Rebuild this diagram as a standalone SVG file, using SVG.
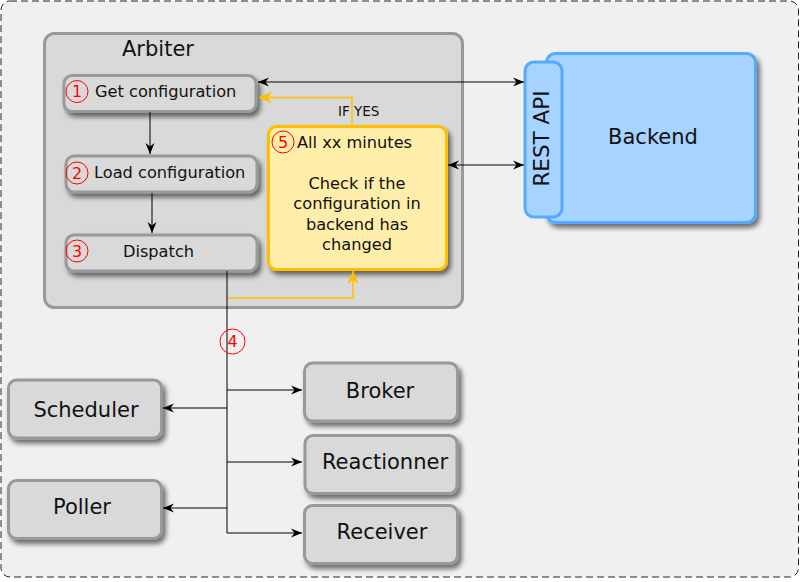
<svg xmlns="http://www.w3.org/2000/svg" width="800" height="582" viewBox="0 0 800 582">
<style>
text{font-family:"DejaVu Sans",Verdana,sans-serif;fill:#111}
.box{fill:#d9d9d9;stroke:#999;stroke-width:3;filter:url(#sh)}
.num{fill:none;stroke:#f00;stroke-width:1}
.numt{fill:#f00;font-size:16px;text-anchor:middle}
.lbl{font-size:16.2px}
.big{font-size:21px;text-anchor:middle}
.ln{fill:none;stroke:#000;stroke-width:1}
.yl{fill:none;stroke:#ffbf00;stroke-width:1.5}
</style>
<defs>
<filter id="sh" x="-20%" y="-20%" width="150%" height="150%">
<feDropShadow dx="3" dy="4" stdDeviation="2.5" flood-color="#000" flood-opacity="0.55"/>
</filter>
<marker id="ab" viewBox="-11 -5 12 10" refX="0" refY="0" markerWidth="12" markerHeight="10" markerUnits="userSpaceOnUse" orient="auto-start-reverse">
<path d="M0,0 L-11,-4.5 L-7.5,0 L-11,4.5 Z" fill="#000"/>
</marker>
<marker id="ay" viewBox="-13 -7 14 14" refX="0" refY="0" markerWidth="14" markerHeight="14" markerUnits="userSpaceOnUse" orient="auto-start-reverse">
<path d="M0,0 L-13,-6 L-9,0 L-13,6 Z" fill="#ffbf00"/>
</marker>
</defs>
<rect x="1" y="1" width="797.5" height="576" rx="9" fill="#f0f0f0" stroke="#222" stroke-width="1" stroke-dasharray="7,4"/>
<g id="arbiter">
<rect x="44.5" y="33.5" width="418" height="274" rx="10" fill="#d9d9d9" stroke="#999" stroke-width="3"/>
<text x="122" y="55.5" style="font-size:21px">Arbiter</text>
</g>
<g id="get-configuration">
<rect class="box" x="64" y="75.5" width="192" height="36" rx="8"/>
<circle class="num" cx="77" cy="91.5" r="11"/>
<text class="numt" x="77" y="97">1</text>
<text class="lbl" x="95" y="97">Get configuration</text>
</g>
<g id="load-configuration">
<rect class="box" x="66" y="156" width="191" height="36" rx="8"/>
<circle class="num" cx="77" cy="173" r="11"/>
<text class="numt" x="77" y="178.5">2</text>
<text class="lbl" x="94" y="178">Load configuration</text>
</g>
<g id="dispatch">
<rect class="box" x="66" y="235" width="191" height="36" rx="8"/>
<circle class="num" cx="77" cy="251" r="11"/>
<text class="numt" x="77" y="256.5">3</text>
<text class="lbl" x="158.5" y="256.5" text-anchor="middle">Dispatch</text>
</g>
<g id="check">
<rect x="268.5" y="126.5" width="178" height="143" rx="8" fill="#ffeeaa" stroke="#ffbf00" stroke-width="3" filter="url(#sh)"/>
<circle class="num" cx="283" cy="142" r="11"/>
<text class="numt" x="283" y="147.5">5</text>
<text class="lbl" x="297" y="148">All xx minutes</text>
<text class="lbl" x="357" y="189" text-anchor="middle">Check if the</text>
<text class="lbl" x="357" y="209" text-anchor="middle">configuration in</text>
<text class="lbl" x="357" y="230" text-anchor="middle">backend has</text>
<text class="lbl" x="357" y="250" text-anchor="middle">changed</text>
</g>
<g id="backend">
<rect x="546.5" y="53.5" width="209" height="169" rx="9" fill="#a6d3ff" stroke="#55aaff" stroke-width="3" filter="url(#sh)"/>
<text x="653" y="144" style="font-size:21px" text-anchor="middle">Backend</text>
</g>
<g id="rest-api">
<rect x="525" y="62" width="37" height="155" rx="9" fill="#a6d3ff" stroke="#55aaff" stroke-width="3"/>
<text transform="translate(549,138.5) rotate(-90)" style="font-size:21.5px" text-anchor="middle">REST API</text>
</g>
<g id="scheduler">
<rect class="box" x="8.5" y="380" width="153" height="58" rx="8"/>
<text class="big" x="86" y="417">Scheduler</text>
</g>
<g id="poller">
<rect class="box" x="8.5" y="480.5" width="153" height="58" rx="8"/>
<text class="big" x="82" y="514">Poller</text>
</g>
<g id="broker">
<rect class="box" x="304.5" y="363" width="153" height="58" rx="8"/>
<text class="big" x="380" y="398">Broker</text>
</g>
<g id="reactionner">
<rect class="box" x="305" y="435.5" width="152" height="58" rx="8"/>
<text class="big" x="385" y="469">Reactionner</text>
</g>
<g id="receiver">
<rect class="box" x="304.5" y="505.5" width="153" height="58" rx="8"/>
<text class="big" x="382" y="539">Receiver</text>
</g>
<g id="connectors">
<line class="ln" x1="150" y1="112" x2="150" y2="154" marker-end="url(#ab)"/>
<line class="ln" x1="152" y1="193" x2="152" y2="233" marker-end="url(#ab)"/>
<line class="ln" x1="258" y1="82" x2="524" y2="82" marker-start="url(#ab)" marker-end="url(#ab)"/>
<line class="ln" x1="448" y1="165" x2="524" y2="165" marker-start="url(#ab)" marker-end="url(#ab)"/>
<polyline class="yl" points="352,126 352,97.5 259,97.5" marker-end="url(#ay)"/>
<text x="338" y="116" style="font-size:13.5px">IF YES</text>
<polyline class="yl" points="227,298 353,298 353,271" marker-end="url(#ay)"/>
<polyline class="ln" points="227,271 227,533 302,533" marker-end="url(#ab)"/>
<line class="ln" x1="227" y1="390" x2="302" y2="390" marker-end="url(#ab)"/>
<line class="ln" x1="227" y1="462" x2="302" y2="462" marker-end="url(#ab)"/>
<line class="ln" x1="227" y1="408" x2="163" y2="408" marker-end="url(#ab)"/>
<line class="ln" x1="227" y1="508" x2="163" y2="508" marker-end="url(#ab)"/>
<circle class="num" cx="232.5" cy="341.5" r="12.5"/>
<text class="numt" x="232.5" y="347">4</text>
</g>
</svg>
